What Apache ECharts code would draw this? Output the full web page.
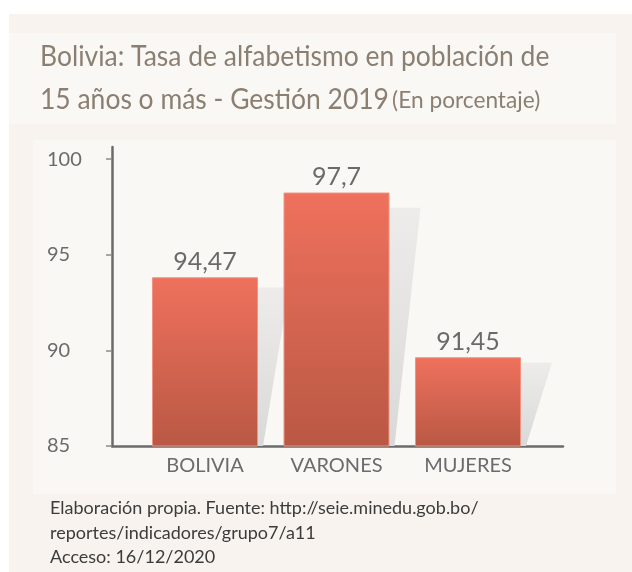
<!DOCTYPE html>
<html>
<head>
<meta charset="utf-8">
<script src="https://cdn.jsdelivr.net/npm/echarts@6/dist/echarts.min.js"></script>
<style>html,body{margin:0;padding:0;background:#fff;}#c{width:632px;height:572px;}</style>
</head>
<body>
<div id="c"></div>
<script>
// ---- data ----
var categories = ['BOLIVIA', 'VARONES', 'MUJERES'];
var valueLabels = ['94,47', '97,7', '91,45'];      // printed labels
var barHeights = [93.82, 98.25, 89.64];            // bar tops as drawn in the reference
var yTicks = [85, 90, 95, 100];
var titleLine1 = 'Bolivia: Tasa de alfabetismo en población de';
var titleLine2 = '15 años o más - Gestión 2019';
var titleUnit = '(En porcentaje)';
var footLines = ['Elaboración propia. Fuente: http://seie.minedu.gob.bo/',
                 'reportes/indicadores/grupo7/a11',
                 'Acceso: 16/12/2020'];

var FONT = 'Lato, "Open Sans", sans-serif';
var chart = echarts.init(document.getElementById('c'));
var yMin = 85, yMax = 100.63;

var graphics = [
  {type:'rect', z:-10, shape:{x:9,y:14,width:623,height:558}, style:{fill:'#f8f3ee'}},
  {type:'rect', z:-9, shape:{x:9,y:33,width:607,height:91}, style:{fill:'#faf8f5'}},
  {type:'rect', z:-9, shape:{x:33,y:140,width:583,height:354}, style:{fill:'#faf8f5'}},
  {type:'text', z:10, x:40, y:57, scaleX:0.945, style:{text:titleLine1, font:'28px '+FONT, fill:'#8b7f72', textVerticalAlign:'middle'}},
  {type:'text', z:10, x:40, y:100, scaleX:0.945, style:{rich:{a:{font:'28px '+FONT, fill:'#8b7f72'}, b:{font:'24px '+FONT, fill:'#8b7f72'}}, text:'{a|'+titleLine2+'} {b|'+titleUnit+'}', textVerticalAlign:'middle'}}
];
footLines.forEach(function(t, i){
  graphics.push({type:'text', z:10, x:50, y:508.5 + i*24.5, style:{text:t, font:'18px '+FONT, fill:'#3c3c3c', textVerticalAlign:'middle'}});
});

chart.setOption({
  backgroundColor:'#ffffff',
  animation:false,
  graphic:graphics,
  grid:[
    {left:112, right:69, top:147, bottom:126},
    {left:139.25, right:98.25, top:147, bottom:126}
  ],
  xAxis:[
    {gridIndex:0, type:'value', min:0, max:1, axisLine:{show:true, lineStyle:{color:'#6b6b6b', width:2.5}}, axisTick:{show:false}, axisLabel:{show:false}, splitLine:{show:false}},
    {gridIndex:1, type:'category', data:categories, axisLine:{show:false}, axisTick:{show:false},
     axisLabel:{margin:10, fontFamily:FONT, fontSize:20, color:'#6b6b6b'}}
  ],
  yAxis:[
    {gridIndex:0, type:'value', min:yMin, max:yMax, interval:5,
     axisLine:{show:true, lineStyle:{color:'#6b6b6b', width:2.5}},
     axisTick:{show:true, length:6, customValues:yTicks, lineStyle:{color:'#8a8a8a', width:1.5}},
     axisLabel:{margin:65, align:'left', fontFamily:FONT, fontSize:20, color:'#6b6b6b',
       formatter:function(v){return yTicks.indexOf(v) >= 0 ? String(v) : '';}},
     splitLine:{show:false}},
    {gridIndex:1, type:'value', min:yMin, max:yMax, show:false, splitLine:{show:false}}
  ],
  series:[
    {
      type:'custom', xAxisIndex:1, yAxisIndex:1, z:1,
      data:barHeights.map(function(v,i){return [i, v];}),
      renderItem:function(params, api){
        var i = api.value(0), v = api.value(1);
        var top = api.coord([i, v]);
        var base = api.coord([i, yMin]);
        var h = base[1] - top[1];
        var st = base[1] - 0.94*h;
        var l = top[0] - 53, r = top[0] + 53;
        return {type:'polygon', shape:{points:[[l+26, st],[r+31, st],[r+5, base[1]],[l+5, base[1]]]},
          style:{fill:new echarts.graphic.LinearGradient(0,0,0,1,[{offset:0,color:'#edecea'},{offset:1,color:'#d9d9d7'}])}};
      }
    },
    {
      type:'bar', xAxisIndex:1, yAxisIndex:1, z:3, barWidth:106,
      data:barHeights,
      itemStyle:{color:new echarts.graphic.LinearGradient(0,0,0,1,[{offset:0,color:'#ef715d'},{offset:1,color:'#b95844'}]),
                 borderColor:'#f09383', borderWidth:1},
      label:{show:true, position:'top', distance:3, fontFamily:FONT, fontSize:25, color:'#6a6a6a',
             formatter:function(p){return valueLabels[p.dataIndex];}}
    }
  ]
});
</script>
</body>
</html>
